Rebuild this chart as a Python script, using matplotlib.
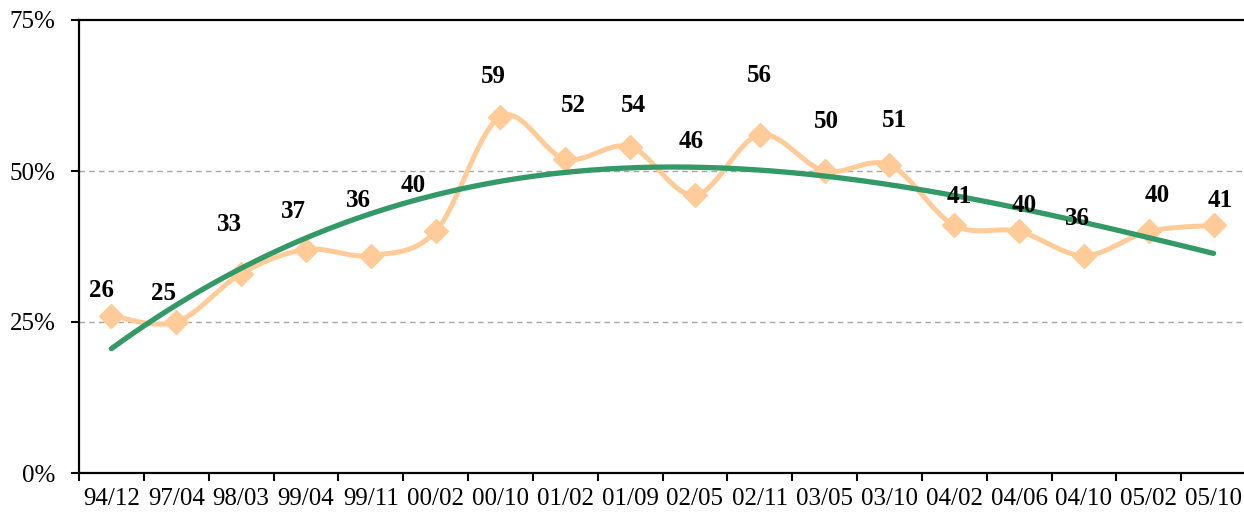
import numpy as np
import matplotlib.pyplot as plt
from matplotlib.ticker import FixedLocator, NullFormatter

# survey dates and values (%)
dates = ['94/12', '97/04', '98/03', '99/04', '99/11', '00/02', '00/10', '01/02', '01/09',
         '02/05', '02/11', '03/05', '03/10', '04/02', '04/06', '04/10', '05/02', '05/10']
values = [26, 25, 33, 37, 36, 40, 59, 52, 54, 46, 56, 50, 51, 41, 40, 36, 40, 41]

# label nudges in pixels (dx, dy) -- labels were hand placed in the original
label_dx = [-10, -13, -12, -12, -12, -22, -7, 8, 3, -4, 0, 2, 5, 5, 5, -6, 8, 7]
label_dy = [25, 28, 49, 38, 55, 46, 40, 53, 41, 54, 59, 50, 44, 29, 26, 37, 36, 25]

ORANGE = '#FFCC99'
GREEN = '#339966'


def smooth(x, y, n=30):
    # Excel style smoothed line (Catmull-Rom -> cubic bezier)
    x = np.asarray(x, float)
    y = np.asarray(y, float)
    px = np.concatenate([[x[0]], x, [x[-1]]])
    py = np.concatenate([[y[0]], y, [y[-1]]])
    t = np.linspace(0, 1, n)[:, None]
    xs, ys = [], []
    for i in range(1, len(px) - 2):
        p0 = np.array([px[i], py[i]])
        p3 = np.array([px[i + 1], py[i + 1]])
        c1 = p0 + (np.array([px[i + 1], py[i + 1]]) - np.array([px[i - 1], py[i - 1]])) / 6
        c2 = p3 - (np.array([px[i + 2], py[i + 2]]) - np.array([px[i], py[i]])) / 6
        pts = ((1 - t) ** 3) * p0 + 3 * ((1 - t) ** 2) * t * c1 + 3 * (1 - t) * t ** 2 * c2 + t ** 3 * p3
        xs.append(pts[:, 0])
        ys.append(pts[:, 1])
    return np.concatenate(xs), np.concatenate(ys)


def main():
    plt.rcParams['font.family'] = ['Liberation Serif', 'DejaVu Serif']
    fig = plt.figure(figsize=(12.44, 5.17), dpi=100)
    ax = fig.add_axes([79 / 1244, 44 / 517, 1167 / 1244, 453 / 517])

    x = np.arange(len(values))
    sx, sy = smooth(x, values)
    ax.plot(sx, sy, color=ORANGE, lw=3.6, solid_capstyle='round', zorder=2)
    ax.plot(x, values, ls='none', marker='D', ms=12, color=ORANGE, zorder=3)

    # polynomial trend line (order 3)
    coef = np.polyfit(x, values, 3)
    tx = np.linspace(0, len(values) - 1, 200)
    ax.plot(tx, np.polyval(coef, tx), color=GREEN, lw=3.8, solid_capstyle='round', zorder=4)

    for i, v in enumerate(values):
        ax.annotate(str(v), (i, v), xytext=(label_dx[i], label_dy[i]), textcoords='offset pixels',
                    ha='center', va='center', fontsize=18, fontweight='bold', zorder=5)

    ax.set_xlim(-0.5, len(values) - 0.5)
    ax.set_ylim(0, 75)
    ax.set_yticks([0, 25, 50, 75])
    ax.set_yticklabels(['0%', '25%', '50%', '75%'], fontsize=18)
    ax.set_xticks(x)
    ax.set_xticklabels(dates, fontsize=18)
    ax.xaxis.set_minor_locator(FixedLocator(np.arange(-0.5, len(values), 1)))
    ax.xaxis.set_minor_formatter(NullFormatter())
    ax.tick_params(axis='x', which='major', length=0, pad=11)
    ax.tick_params(axis='x', which='minor', length=6, width=1.5, direction='out')
    ax.tick_params(axis='y', length=6, width=1.5, direction='out', pad=11)

    for y in [25, 50]:
        ax.axhline(y, color='#a6a6a6', lw=1, ls=(0, (4, 3)), zorder=1)
    for s in ax.spines.values():
        s.set_linewidth(1.6)

    fig.savefig('out.png', dpi=100)


if __name__ == "__main__":
    main()
